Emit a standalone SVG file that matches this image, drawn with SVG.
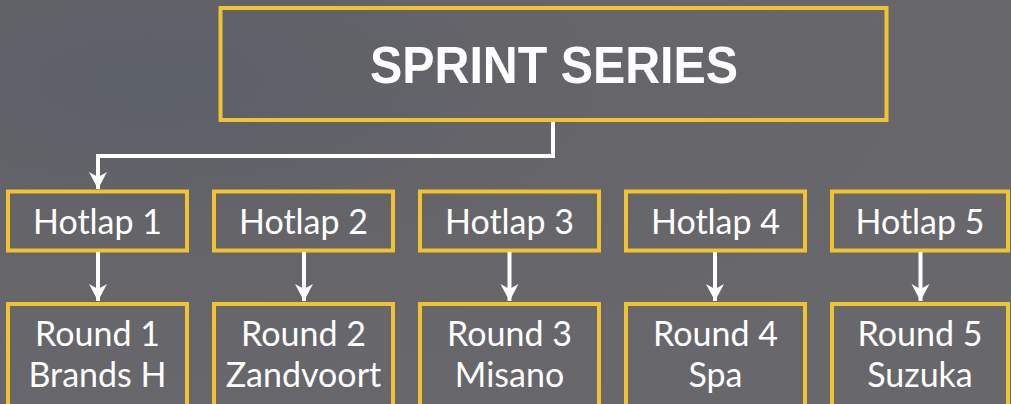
<svg xmlns="http://www.w3.org/2000/svg" width="1011" height="404" viewBox="0 0 1011 404">
  <defs>
    <radialGradient id="bg" cx="0.15" cy="0.2" r="0.9">
      <stop offset="0" stop-color="#5c6068"/>
      <stop offset="0.5" stop-color="#666569"/>
      <stop offset="1" stop-color="#68676b"/>
    </radialGradient>
    <marker id="arr" markerUnits="userSpaceOnUse" markerWidth="20" markerHeight="20" viewBox="-18 -10 20 20" refX="0" refY="0" orient="auto">
      <path d="M0,0 L-17,-9 L-12,0 L-17,9 Z" fill="#ffffff"/>
    </marker>
    <style>
      .box { fill: none; stroke: #f1c232; stroke-width: 4; }
      .conn { fill: none; stroke: #ffffff; stroke-width: 4; }
      .lbl { fill: #ffffff; font-family: Lato, "Liberation Sans", sans-serif; font-size: 34px; text-anchor: middle; }
      .title { fill: #ffffff; font-family: "Liberation Sans", Arial, sans-serif; font-weight: bold; font-size: 52px; text-anchor: middle; }
    </style>
  </defs>
  <rect x="0" y="0" width="1011" height="404" fill="url(#bg)"/>

  <g id="sprint-series">
    <rect class="box" x="220.5" y="8" width="666" height="112"/>
    <text class="title" x="554" y="83" textLength="368" lengthAdjust="spacingAndGlyphs">SPRINT SERIES</text>
  </g>

  <g id="hotlap-1"><rect class="box" x="8" y="191.5" width="179" height="59"/><text class="lbl" x="97.5" y="234">Hotlap 1</text></g>
  <g id="hotlap-2"><rect class="box" x="214" y="191.5" width="179" height="59"/><text class="lbl" x="303.5" y="234">Hotlap 2</text></g>
  <g id="hotlap-3"><rect class="box" x="420" y="191.5" width="179" height="59"/><text class="lbl" x="509.5" y="234">Hotlap 3</text></g>
  <g id="hotlap-4"><rect class="box" x="626" y="191.5" width="179" height="59"/><text class="lbl" x="715.5" y="234">Hotlap 4</text></g>
  <g id="hotlap-5"><rect class="box" x="832" y="191.5" width="176" height="59"/><text class="lbl" x="920" y="234">Hotlap 5</text></g>

  <g id="round-1"><rect class="box" x="8" y="304" width="179" height="120"/><text class="lbl" x="97.5" y="346">Round 1</text><text class="lbl" x="97.5" y="387">Brands H</text></g>
  <g id="round-2"><rect class="box" x="214" y="304" width="179" height="120"/><text class="lbl" x="303.5" y="346">Round 2</text><text class="lbl" x="303.5" y="387">Zandvoort</text></g>
  <g id="round-3"><rect class="box" x="420" y="304" width="179" height="120"/><text class="lbl" x="509.5" y="346">Round 3</text><text class="lbl" x="509.5" y="387">Misano</text></g>
  <g id="round-4"><rect class="box" x="626" y="304" width="179" height="120"/><text class="lbl" x="715.5" y="346">Round 4</text><text class="lbl" x="715.5" y="387">Spa</text></g>
  <g id="round-5"><rect class="box" x="832" y="304" width="176" height="120"/><text class="lbl" x="920" y="346">Round 5</text><text class="lbl" x="920" y="387">Suzuka</text></g>

  <g id="connectors">
    <path class="conn" d="M553,122 V156 H98 V189" marker-end="url(#arr)"/>
    <path class="conn" d="M98,252 V301" marker-end="url(#arr)"/>
    <path class="conn" d="M304,252 V301" marker-end="url(#arr)"/>
    <path class="conn" d="M509.5,252 V301" marker-end="url(#arr)"/>
    <path class="conn" d="M715,252 V301" marker-end="url(#arr)"/>
    <path class="conn" d="M920.5,252 V301" marker-end="url(#arr)"/>
  </g>
</svg>
